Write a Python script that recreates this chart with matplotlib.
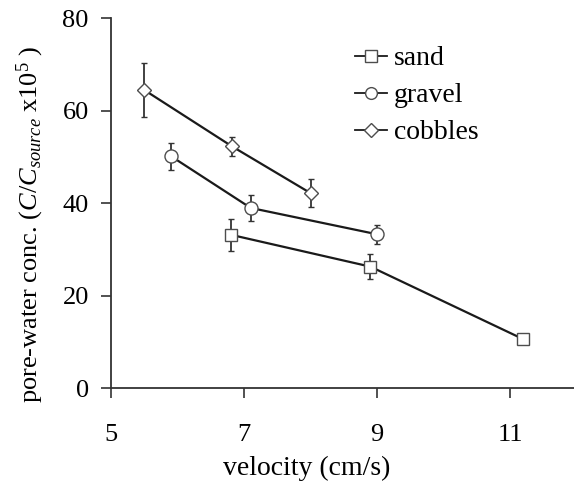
import numpy as np
import matplotlib.pyplot as plt
from matplotlib.lines import Line2D

plt.rcParams['font.family'] = ['Liberation Serif', 'DejaVu Serif']
plt.rcParams['mathtext.fontset'] = 'custom'
plt.rcParams['mathtext.rm'] = 'Liberation Serif'
plt.rcParams['mathtext.it'] = 'Liberation Serif:italic'

# data
sand_x = [6.8, 8.9, 11.2]
sand_y = [33.2, 26.3, 10.6]
sand_err = [3.5, 2.7, 1.0]

gravel_x = [5.9, 7.1, 9.0]
gravel_y = [50.2, 39.0, 33.3]
gravel_err = [2.9, 2.9, 2.1]

cobbles_x = [5.5, 6.82, 8.0]
cobbles_y = [64.5, 52.3, 42.2]
cobbles_err = [5.8, 2.1, 3.0]

x_ticks = [5, 7, 9, 11]
y_ticks = [0, 20, 40, 60, 80]

fig = plt.figure(figsize=(5.74, 4.82), dpi=100)
ax = fig.add_axes([0.1934, 0.1944, 0.8066, 0.7676])

ink = '#1a1a1a'
edge = '#4d4d4d'
axcol = '#333333'
series = [
    (sand_x, sand_y, sand_err, 's', 8.8, 'sand'),
    (gravel_x, gravel_y, gravel_err, 'o', 9.4, 'gravel'),
    (cobbles_x, cobbles_y, cobbles_err, 'D', 7.4, 'cobbles'),
]
handles = []
for x, y, e, m, ms, lab in series:
    ax.errorbar(x, y, yerr=e, fmt='-', color=ink, lw=1.6, elinewidth=1.3,
                ecolor='#333333', capsize=2.5, capthick=1.3, marker=m, ms=ms,
                mfc='white', mec=edge, mew=1.0, zorder=3)
    handles.append(Line2D([], [], color=ink, lw=1.3, marker=m, ms=ms * 0.9,
                          mfc='white', mec=edge, mew=1.0, label=lab))

ax.set_xlim(5, 11.96)
ax.set_ylim(0, 80)
ax.set_xticks(x_ticks)
ax.set_yticks(y_ticks)
ax.tick_params(labelsize=19, direction='out', length=7, width=1.2, color=axcol)
ax.tick_params(axis='x', pad=19)
ax.tick_params(axis='y', pad=9)
for s in ['top', 'right']:
    ax.spines[s].set_visible(False)
for s in ['left', 'bottom']:
    ax.spines[s].set_color(axcol)
    ax.spines[s].set_linewidth(1.3)

ax.set_xlabel('velocity (cm/s)', fontsize=20)
ax.xaxis.set_label_coords(0.423, -0.182)
ax.set_ylabel(r'pore-water conc. ($C/C_{source}$ x10$^{5}$ )', fontsize=19)
ax.yaxis.set_label_coords(-0.141, 0.444)

fig.legend(handles=handles, loc='upper left', bbox_to_anchor=(0.6185, 0.905),
           frameon=False, fontsize=20, handlelength=1.15, handletextpad=0.25,
           labelspacing=0.42, borderpad=0, borderaxespad=0)

fig.savefig('out.png', dpi=100)
